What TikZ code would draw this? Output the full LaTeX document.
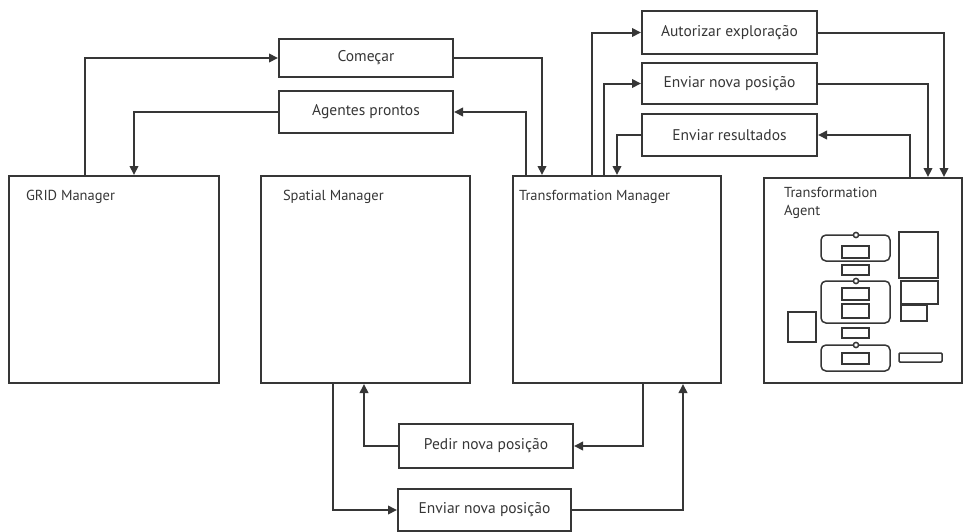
\documentclass[tikz,border=0pt]{standalone}
\usepackage{fontspec}
\setmainfont{PT Sans}
\usetikzlibrary{arrows.meta}
\definecolor{ink}{HTML}{363636}
\begin{document}
\begin{tikzpicture}[x=1pt,y=-1pt,
  line width=2pt, draw=ink,
  agentbox/.style={draw=ink, line width=2pt, anchor=north west, inner sep=0pt,
    minimum width=#1},
  msgbox/.style={draw=ink, line width=2pt, anchor=north west, inner sep=0pt,
    minimum width=174pt, font=\fontsize{15.5}{18}\selectfont, text=ink},
  label/.style={anchor=west, inner sep=0pt, text=ink,
    font=\fontsize{14.5}{18}\selectfont},
  arr/.style={draw=ink, line width=2pt, -{Triangle[length=9pt,width=8.5pt]}},
  part/.style={draw=ink, line width=1.5pt},
]
\useasboundingbox (0,0) rectangle (964,531);

% main components
\node[agentbox=210pt, minimum height=207pt] (grid) at (8,175) {};
\node[agentbox=209pt, minimum height=207pt] (sm)   at (260,175) {};
\node[agentbox=208pt, minimum height=207pt] (tm)   at (512,175) {};
\node[agentbox=198pt, minimum height=205pt] (agent) at (763,177) {};

\node[label] (gridl) at (25,197) {GRID Manager};
\node[label] (sml)   at (282,197) {Spatial Manager};
\node[label] (tml)   at (518,197) {Transformation Manager};
\node[label, anchor=north west, align=left] (agentl) at (783,186) {Transformation\\Agent};

% messages
\node[msgbox, minimum height=38pt] (start) at (278,38)  {Começar};
\node[msgbox, minimum height=42pt] (ready) at (278,90)  {Agentes prontos};
\node[msgbox, minimum width=175pt, minimum height=43pt] (auth) at (641,10) {Autorizar exploração};
\node[msgbox, minimum width=175pt, minimum height=41pt] (send) at (641,62) {Enviar nova posição};
\node[msgbox, minimum width=175pt, minimum height=42pt] (res)  at (641,113) {Enviar resultados};
\node[msgbox, minimum height=44pt] (ask)   at (398,423) {Pedir nova posição};
\node[msgbox, minimum width=173pt, minimum height=42pt] (send2) at (397,488) {Enviar nova posição};

% message flow
\draw[arr] ([xshift=77pt]grid.north west) |- (start.west);
\draw[arr] (start.east) -| ([xshift=30pt]tm.north west);
\draw[arr] ([xshift=14pt]tm.north west) |- (ready.east);
\draw[arr] (ready.west) -| ([xshift=126pt]grid.north west);

\draw[arr] ([xshift=80pt]tm.north west) |- (auth.west);
\draw[arr] (auth.east) -| ([xshift=181pt]agent.north west);
\draw[arr] ([xshift=92pt]tm.north west) |- (send.west);
\draw[arr] (send.east) -| ([xshift=165pt]agent.north west);
\draw[arr] ([xshift=147pt]agent.north west) |- (res.east);
\draw[arr] (res.west) -| ([xshift=105pt]tm.north west);

\draw[arr] ([xshift=131pt]tm.south west) |- (ask.east);
\draw[arr] (ask.west) -| ([xshift=104pt]sm.south west);
\draw[arr] ([xshift=73pt]sm.south west) |- (send2.west);
\draw[arr] (send2.east) -| ([xshift=171pt]tm.south west);

% internal structure of the agent
\draw[part, rounded corners=5pt] (821,235) rectangle (890,261);
\draw[part, fill=white] (856,235) circle (2.6pt);
\draw[part] (842,246) rectangle (869,258);
\draw[part] (842,265) rectangle (869,275);
\draw[part, rounded corners=5pt] (821,281) rectangle (890,323);
\draw[part, fill=white] (856,281) circle (2.6pt);
\draw[part] (842,288) rectangle (869,300);
\draw[part] (842,304) rectangle (869,318);
\draw[part] (842,328) rectangle (869,338);
\draw[part, rounded corners=5pt] (821,345) rectangle (890,371);
\draw[part, fill=white] (856,345) circle (2.6pt);
\draw[part] (842,353) rectangle (869,364);
\draw[part] (788,312) rectangle (816,342);
\draw[part] (899,232) rectangle (938,278);
\draw[part] (901,281) rectangle (938,304);
\draw[part] (901,305) rectangle (927,321);
\draw[part, rounded corners=1pt] (899,353) rectangle (942,362);
\end{tikzpicture}
\end{document}
